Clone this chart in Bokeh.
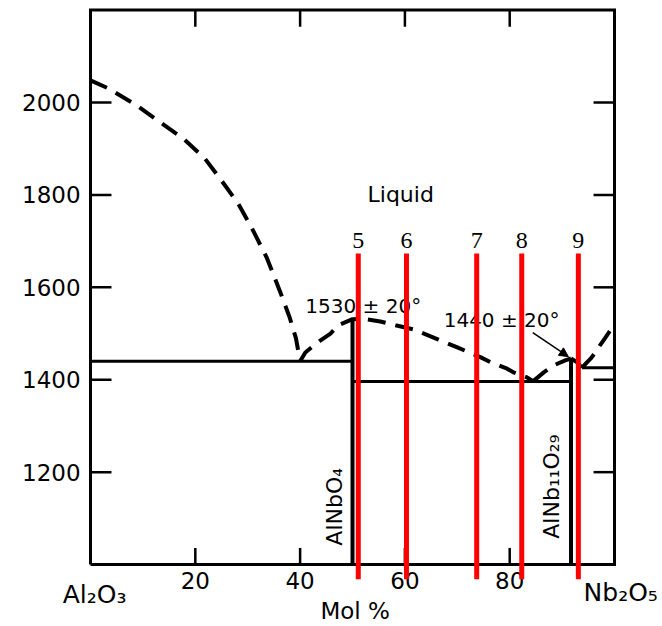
import math
from bokeh.plotting import figure
from bokeh.models import Range1d, Arrow, NormalHead
from bokeh.core.properties import value
from bokeh.embed import file_html
from bokeh.resources import INLINE

# ---------------- data ----------------
x_ticks = [20, 40, 60, 80]
x_tick_labels = ["20", "40", "60", "80"]
y_ticks = [1200, 1400, 1600, 1800, 2000]
y_tick_labels = ["1200", "1400", "1600", "1800", "2000"]
frame_x = [0, 100, 100, 0, 0]
frame_T = [1000, 1000, 2200, 2200, 1000]

# liquidus branches (dashed)
liq1_x = [0, 3.5, 8.8, 13.3, 17.7, 21.8, 25.0, 28.2, 30.7, 33.6, 36.2, 38.0, 39.2, 40.0]
liq1_T = [2048, 2030, 1994, 1957, 1922, 1879, 1831, 1781, 1730, 1665, 1590, 1535, 1490, 1440]
liq2_x = [40, 41.0, 42.6, 43.9, 45.8, 47.3, 50.0, 51.9, 55.3, 58.2, 61.6, 66.4, 70.0,
          72.1, 74.4, 76.3, 79.5, 80.7, 83.3, 84.5]
liq2_T = [1440, 1459, 1474, 1485, 1500, 1518, 1531, 1532, 1526, 1518, 1509, 1487, 1470,
          1460, 1449, 1438, 1424, 1416, 1405, 1397]
liq3_x = [84.5, 86.5, 88.4, 90.6, 91.7]
liq3_T = [1397, 1416, 1431, 1442, 1446]
liq4_x = [91.7, 92.8, 93.8]
liq4_T = [1446, 1438, 1426]
liq5_x = [93.8, 94.6, 95.4, 96.3, 97.2, 98.2, 99.1, 100]
liq5_T = [1426, 1436, 1445, 1458, 1474, 1490, 1505, 1520]

# solidus / eutectic lines and compounds (solid)
eut1_x = [0, 50]
eut1_T = [1440, 1440]
eut2_x = [50, 91.7]
eut2_T = [1396, 1396]
eut3_x = [93.8, 100]
eut3_T = [1426, 1426]
alnbo4_x = [50, 50]
alnbo4_T = [1000, 1531]
alnb11_x = [91.7, 91.7]
alnb11_T = [1000, 1446]

# red marker lines
red_x = [51.1, 60.3, 73.7, 82.3, 93.1]
red_labels = ["5", "6", "7", "8", "9"]
red_T = [968, 1673]

# annotations
liquid_xy = (59.2, 1784)
peak1_text = "1530 ± 20°"
peak1_xy = (41.0, 1543)
peak2_text = "1440 ± 20°"
peak2_xy = (67.4, 1511)
arrow_x = [84.4, 91.2]
arrow_T = [1502, 1450]
alnbo4_text = "AlNbO₄"
alnbo4_xy = (46.6, 1041)
alnb11_text = "AlNb₁₁O₂₉"
alnb11_xy = (87.9, 1056)
left_comp = "Al₂O₃"
left_comp_xy = (-5.3, 918)
right_comp = "Nb₂O₅"
right_comp_xy = (94.1, 922)
x_title = "Mol %"
x_title_xy = (50.5, 883)

# ---------------- styles ----------------
FONT = value("DejaVu Sans")
SERIF = value("Liberation Serif")
TICK_LX = 4.0     # left/right tick length (x units)
TICK_LY = 36.0    # top/bottom tick length (T units)
YLAB_X = -1.9
XLAB_T = 948
LBL_T = 1684
SHIFT = -8        # screen-pixel baseline correction for horizontal texts

p = figure(width=662, height=626,
           x_range=Range1d(-17.18, 109.16), y_range=Range1d(866.0, 2220.7),
           output_backend="svg", toolbar_location=None,
           x_axis_type=None, y_axis_type=None, min_border=0, title=None)
p.outline_line_color = None
p.background_fill_color = "white"
p.border_fill_color = "white"

# frame
p.line(frame_x, frame_T, line_width=3, color="black", line_join="miter")

# ticks (inward)
p.segment(x0=[0] * len(y_ticks), y0=y_ticks, x1=[TICK_LX] * len(y_ticks), y1=y_ticks,
          line_width=2.5, color="black")
p.segment(x0=[100] * len(y_ticks), y0=y_ticks, x1=[100 - TICK_LX] * len(y_ticks), y1=y_ticks,
          line_width=2.5, color="black")
p.segment(x0=x_ticks, y0=[1000] * len(x_ticks), x1=x_ticks, y1=[1000 + TICK_LY] * len(x_ticks),
          line_width=2.5, color="black")
p.segment(x0=x_ticks, y0=[2200] * len(x_ticks), x1=x_ticks, y1=[2200 - TICK_LY] * len(x_ticks),
          line_width=2.5, color="black")

# tick labels
p.text(x=[YLAB_X] * len(y_ticks), y=y_ticks, text=y_tick_labels, text_align="right",
       text_baseline="alphabetic", y_offset=8 + SHIFT, text_font=FONT,
       text_font_size=value("23px"), text_color="black")
p.text(x=x_ticks, y=[XLAB_T] * len(x_ticks), text=x_tick_labels, text_align="center",
       text_baseline="alphabetic", y_offset=SHIFT, text_font=FONT,
       text_font_size=value("23px"), text_color="black")

# solid lines
for xs, ts, w in [(eut1_x, eut1_T, 3), (eut2_x, eut2_T, 3), (eut3_x, eut3_T, 3),
                  (alnbo4_x, alnbo4_T, 4), (alnb11_x, alnb11_T, 4)]:
    p.line(xs, ts, line_width=w, color="black")

# dashed liquidus
for xs, ts in [(liq1_x, liq1_T), (liq2_x, liq2_T), (liq3_x, liq3_T),
               (liq4_x, liq4_T), (liq5_x, liq5_T)]:
    p.line(xs, ts, line_width=4, color="black", line_dash="18 10")

# annotations
p.text(x=[liquid_xy[0]], y=[liquid_xy[1]], text=["Liquid"], text_align="center",
       text_baseline="alphabetic", y_offset=SHIFT, text_font=FONT,
       text_font_size=value("22px"))
p.text(x=[peak1_xy[0], peak2_xy[0]], y=[peak1_xy[1], peak2_xy[1]],
       text=[peak1_text, peak2_text], text_align="left", text_baseline="alphabetic",
       y_offset=SHIFT, text_font=FONT, text_font_size=value("20px"))
p.add_layout(Arrow(end=NormalHead(size=9, fill_color="black", line_color="black", line_width=1),
                   x_start=arrow_x[0], y_start=arrow_T[0], x_end=arrow_x[1], y_end=arrow_T[1],
                   line_width=1.5, line_color="black"))
p.text(x=[alnbo4_xy[0], alnb11_xy[0]], y=[alnbo4_xy[1], alnb11_xy[1]],
       text=[alnbo4_text, alnb11_text], angle=math.pi / 2, text_align="left",
       text_baseline="alphabetic", text_font=FONT, text_font_size=value("22px"))
p.text(x=[left_comp_xy[0], right_comp_xy[0]], y=[left_comp_xy[1], right_comp_xy[1]],
       text=[left_comp, right_comp], text_align="left", text_baseline="alphabetic",
       y_offset=SHIFT, text_font=FONT, text_font_size=value("25px"))
p.text(x=[x_title_xy[0]], y=[x_title_xy[1]], text=[x_title], text_align="center",
       text_baseline="alphabetic", y_offset=SHIFT, text_font=FONT,
       text_font_size=value("23px"))

# red marker lines and their numbers
p.segment(x0=red_x, y0=[red_T[0]] * len(red_x), x1=red_x, y1=[red_T[1]] * len(red_x),
          line_width=5, color="#ff0000")
p.text(x=red_x, y=[LBL_T] * len(red_x), text=red_labels, text_align="center",
       text_baseline="alphabetic", y_offset=SHIFT, text_font=SERIF,
       text_font_size=value("24px"), text_color="black")

open("out.html", "w").write(file_html(p, INLINE))
